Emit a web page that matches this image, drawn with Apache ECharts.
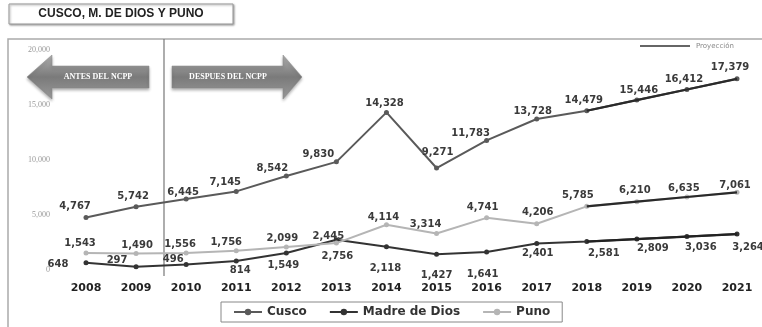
<!DOCTYPE html>
<html><head><meta charset="utf-8">
<script src="https://cdn.jsdelivr.net/npm/echarts@6/dist/echarts.min.js"></script>
<style>html,body{margin:0;padding:0;background:#fff}#c{width:762px;height:327px}</style>
</head><body><div id="c"></div>
<script>
const years = ['2008','2009','2010','2011','2012','2013','2014','2015','2016','2017','2018','2019','2020','2021'];
const cusco = [4767,5742,6445,7145,8542,9830,14328,9271,11783,13728,14479,15446,16412,17379];
const madreDeDios = [648,297,496,814,1549,2756,2118,1427,1641,2401,2581,2809,3036,3264];
const puno = [1543,1490,1556,1756,2099,2445,4114,3314,4741,4206,5785,6210,6635,7061];
const yTicks = [0,5000,10000,15000,20000];
const projectionStart = 10; // index of 2018

// label offsets (styling only)
const cuscoLblOff = [[-11,-11],[-3,-10],[-3,-7],[-11,-9],[-14,-8],[-18,-7],[-2,-9],[1,-16],[-16,-7],[-4,-8],[-3,-10],[2,-10],[-3,-10],[-7,-11]];
const madreLblOff = [[-28,2],[-19,-6],[-13,-5],[4,9],[-3,12],[1,17],[-1,22],[0,21],[-4,22],[1,10],[17,12],[16,9],[14,11],[11,13]];
const punoLblOff = [[-6,-10],[1,-8],[-6,-8],[-10,-8],[-4,-9],[-8,-7],[-3,-7],[-11,-9],[-4,-10],[1,-11],[-9,-11],[-2,-11],[-3,-9],[-2,-7]];

const fmt = v => v.toLocaleString('en-US');
const lblBase = {show:true, position:'inside', align:'center', verticalAlign:'middle',
  fontFamily:'DejaVu Sans', fontWeight:'bold', fontSize:10, color:'#3a3a3a',
  formatter: p => fmt(p.value)};
function withLabels(arr, offs){
  return arr.map((v,i)=>({value:v, label:Object.assign({}, lblBase, {offset:offs[i]})}));
}
function projection(arr){
  return arr.map((v,i)=> i>=projectionStart ? v : '-');
}

const chart = echarts.init(document.getElementById('c'));
const lineCommon = {type:'line', symbol:'circle', symbolSize:5, z:3};
chart.setOption({
  animation:false,
  backgroundColor:'#fff',
  grid:{left:86, right:25, top:50, bottom:57},
  xAxis:{type:'category', data:years, boundaryGap:false,
    axisLine:{show:false}, axisTick:{show:false}, splitLine:{show:false},
    axisLabel:{margin:13, fontFamily:'DejaVu Sans', fontWeight:'bold', fontSize:11, color:'#222'}},
  yAxis:{type:'value', min:yTicks[0], max:yTicks[yTicks.length-1], interval:yTicks[1]-yTicks[0],
    axisLine:{show:false}, axisTick:{show:false}, splitLine:{show:false},
    axisLabel:{margin:36, fontFamily:'Liberation Serif', fontSize:8, color:'#999', formatter:v=>fmt(v)}},
  legend:{data:['Cusco','Madre de Dios','Puno'], left:221, top:302, itemGap:22, itemWidth:28, itemHeight:8,
    padding:[4,12,4,12], borderColor:'#888', borderWidth:1,
    textStyle:{fontFamily:'DejaVu Sans', fontWeight:'bold', fontSize:12, color:'#333'}},
  series:[
    Object.assign({}, lineCommon, {name:'Cusco', data:withLabels(cusco,cuscoLblOff),
      itemStyle:{color:'#5a5a5a'}, lineStyle:{color:'#5a5a5a', width:2}}),
    Object.assign({}, lineCommon, {name:'Madre de Dios', data:withLabels(madreDeDios,madreLblOff),
      itemStyle:{color:'#333'}, lineStyle:{color:'#333', width:2}}),
    Object.assign({}, lineCommon, {name:'Puno', data:withLabels(puno,punoLblOff),
      itemStyle:{color:'#b5b5b5'}, lineStyle:{color:'#b5b5b5', width:2}}),
    {type:'line', name:'Proyección C', data:projection(cusco), symbol:'none', z:4,
      lineStyle:{color:'#2a2a2a', width:2.2}, silent:true},
    {type:'line', name:'Proyección M', data:projection(madreDeDios), symbol:'none', z:4,
      lineStyle:{color:'#222', width:2.2}, silent:true},
    {type:'line', name:'Proyección P', data:projection(puno), symbol:'none', z:4,
      lineStyle:{color:'#2a2a2a', width:2.2}, silent:true}
  ],
  graphic:[
    // title box
    {type:'rect', shape:{x:9,y:4,width:224,height:20}, style:{fill:'#fff', stroke:'#999', lineWidth:1, shadowBlur:2, shadowColor:'rgba(0,0,0,0.35)', shadowOffsetX:1, shadowOffsetY:1}},
    {type:'text', x:121, y:14, style:{text:'CUSCO, M. DE DIOS Y PUNO', align:'center', verticalAlign:'middle', font:'bold 12px "Liberation Sans"', fill:'#222'}},
    // frame
    {type:'rect', shape:{x:8,y:39,width:770,height:300}, style:{fill:'none', stroke:'#aaa', lineWidth:1.5}, z:-1},
    // vertical divider
    {type:'line', shape:{x1:164,y1:39,x2:164,y2:276}, style:{stroke:'#777', lineWidth:1.2}},
    // arrows
    {type:'polygon', shape:{points:[[27,77],[52,55],[52,66],[149,66],[149,88],[52,88],[52,99]]},
      style:{fill:{type:'linear',x:0,y:0,x2:0,y2:1,colorStops:[{offset:0,color:'#b0b0b0'},{offset:0.5,color:'#7a7a7a'},{offset:1,color:'#9a9a9a'}]}, stroke:'#888', lineWidth:0.5, shadowBlur:3, shadowColor:'rgba(0,0,0,0.3)', shadowOffsetY:2}},
    {type:'text', x:98, y:77, style:{text:'ANTES DEL NCPP', align:'center', verticalAlign:'middle', font:'bold 8px "Liberation Serif"', fill:'#fff'}},
    {type:'polygon', shape:{points:[[172,66],[283,66],[283,55],[302,77],[283,99],[283,88],[172,88]]},
      style:{fill:{type:'linear',x:0,y:0,x2:0,y2:1,colorStops:[{offset:0,color:'#b0b0b0'},{offset:0.5,color:'#7a7a7a'},{offset:1,color:'#9a9a9a'}]}, stroke:'#888', lineWidth:0.5, shadowBlur:3, shadowColor:'rgba(0,0,0,0.3)', shadowOffsetY:2}},
    {type:'text', x:228, y:77, style:{text:'DESPUES DEL NCPP', align:'center', verticalAlign:'middle', font:'bold 8px "Liberation Serif"', fill:'#fff'}},
    // projection legend
    {type:'line', shape:{x1:640,y1:46,x2:690,y2:46}, style:{stroke:'#333', lineWidth:1.5}},
    {type:'text', x:696, y:46, style:{text:'Proyección', align:'left', verticalAlign:'middle', font:'7px "DejaVu Sans"', fill:'#888'}}
  ]
});
</script></body></html>
